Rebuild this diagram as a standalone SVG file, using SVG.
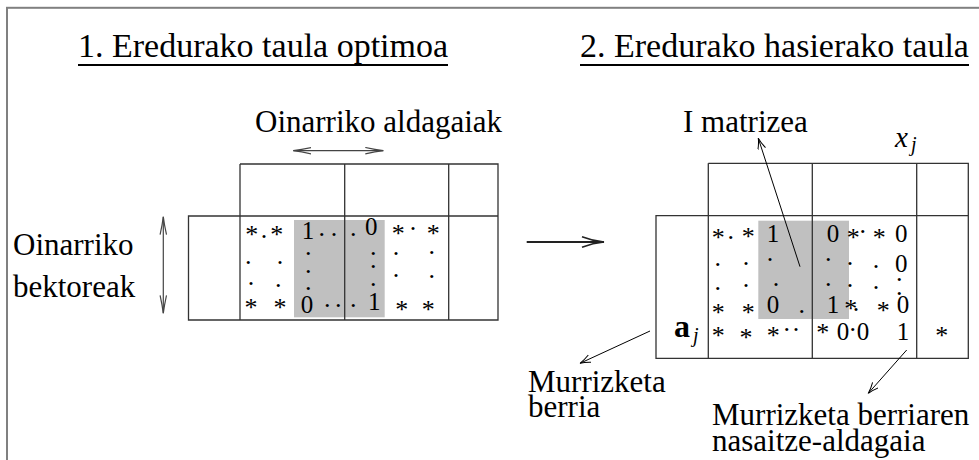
<svg xmlns="http://www.w3.org/2000/svg" width="979" height="460" viewBox="0 0 979 460" font-family="'Liberation Serif', 'DejaVu Serif', serif">
<defs>
<style>
text{font-family:'Liberation Serif','DejaVu Serif',serif;fill:#000}
.t{font-size:34px}
.l{font-size:31px}
.n{font-size:25px}
.d{font-size:26px;text-anchor:middle}
.s{font-size:26px;text-anchor:middle}
.grid{fill:none;stroke:#333;stroke-width:1.3}
.gray{fill:#c0c0c0;stroke:none}
.con{fill:none;stroke:#000;stroke-width:1}
</style>
<marker id="ah" markerUnits="userSpaceOnUse" markerWidth="14" markerHeight="10" refX="11" refY="4" orient="auto-start-reverse" viewBox="0 0 14 10">
<path d="M0,0 Q6,3 11,4 Q6,5 0,8" fill="none" stroke="#000" stroke-width="1"/>
</marker>
<marker id="ahg" markerUnits="userSpaceOnUse" markerWidth="22" markerHeight="10" refX="18" refY="4" orient="auto-start-reverse" viewBox="0 0 22 10">
<path d="M0,0.8 Q10,3 18,4 Q10,5 0,7.2" fill="none" stroke="#444" stroke-width="1.2"/>
</marker>
<marker id="ahb" markerUnits="userSpaceOnUse" markerWidth="26" markerHeight="14" refX="23" refY="6" orient="auto" viewBox="0 0 26 14">
<path d="M1,0.7 Q12,5 23,6 Q12,7 1,11.3" fill="none" stroke="#222" stroke-width="1.5"/>
</marker>
</defs>
<rect x="7" y="7.8" width="1000" height="500" fill="none" stroke="#808080" stroke-width="2"/>

<g id="title1">
<text class="t" x="78" y="57">1. Eredurako taula optimoa</text>
<line x1="78" y1="65" x2="448" y2="65" stroke="#000" stroke-width="2"/>
</g>
<g id="title2">
<text class="t" x="580" y="57">2. Eredurako hasierako taula</text>
<line x1="580" y1="65" x2="969" y2="65" stroke="#000" stroke-width="2"/>
</g>

<g id="label-oinarriko-aldagaiak"><text class="l" x="255" y="132">Oinarriko aldagaiak</text></g>
<g id="label-oinarriko-bektoreak"><text class="l" x="13" y="255">Oinarriko</text><text class="l" x="13" y="297">bektoreak</text></g>
<g id="label-i-matrizea"><text class="l" x="683" y="132">I matrizea</text></g>
<g id="label-xj"><text x="895" y="146.7" style="font-size:29px;font-style:italic">x</text><text x="911" y="151" style="font-size:20px;font-style:italic">j</text></g>
<g id="label-murrizketa"><text class="l" x="528" y="392">Murrizketa</text><text class="l" x="528" y="416.5">berria</text></g>
<g id="label-nasaitze"><text class="l" x="712" y="425">Murrizketa berriaren</text><text class="l" x="712" y="451">nasaitze-aldagaia</text></g>

<g id="table1">
<rect class="gray" x="294" y="220" width="90.7" height="97.3"/>
<path class="grid" d="M188.5,216 H498 V320 H188.5 Z M240,164 H498 V216 M240,164 V320 M344.7,164 V320 M448.7,164 V320"/>
<text class="s" x="251.7" y="242.5">*</text>
<text class="d" x="264" y="238">.</text>
<text class="s" x="276.7" y="242.5">*</text>
<text class="n" x="301.7" y="239">1</text>
<text class="d" x="321.7" y="235.5">.</text><text class="d" x="334" y="235.5">.</text><text class="d" x="353.3" y="235.5">.</text>
<text class="n" x="365" y="235">0</text>
<text class="s" x="398.3" y="242">*</text><text class="d" x="413" y="229.5">.</text><text class="s" x="433.3" y="242">*</text>
<text class="d" x="248.3" y="263.5">.</text><text class="d" x="280" y="263.5">.</text><text class="d" x="308.3" y="255.2">.</text><text class="d" x="373.3" y="255.2">.</text><text class="d" x="396" y="254.5">.</text><text class="d" x="431.7" y="254">.</text>
<text class="d" x="251" y="285.2">.</text><text class="d" x="278.3" y="287">.</text><text class="d" x="308.3" y="273">.</text><text class="d" x="373.3" y="268">.</text><text class="d" x="396" y="277">.</text><text class="d" x="431.7" y="278">.</text>
<text class="d" x="308.3" y="290.2">.</text><text class="d" x="373.3" y="286.2">.</text>
<text class="s" x="251" y="315.7">*</text><text class="s" x="280" y="315.7">*</text>
<text class="n" x="300.7" y="313.3">0</text>
<text class="d" x="327.3" y="307">.</text><text class="d" x="338.3" y="307">.</text><text class="d" x="353.3" y="307">.</text>
<text class="n" x="368" y="310">1</text>
<text class="s" x="401.7" y="318">*</text><text class="s" x="428.3" y="318">*</text>
</g>

<g id="table2">
<rect class="gray" x="758.3" y="220.7" width="90.7" height="98.3"/>
<path class="grid" d="M656,215.7 H968.3 V358.3 H656 Z M708.3,163.3 H968.3 V215.7 M708.3,163.3 V358.3 M812.3,163.3 V358.3 M916.7,163.3 V358.3"/>
<text class="s" x="718.3" y="245.7">*</text><text class="d" x="730.7" y="238.5">.</text><text class="s" x="748.3" y="244.7">*</text>
<text class="n" x="766.7" y="241.7">1</text><text class="n" x="826.7" y="241.7">0</text>
<text class="s" x="853.3" y="245.7">*</text><text class="d" x="862.7" y="233">.</text><text class="s" x="879.3" y="245.7">*</text>
<text class="n" x="895" y="241.7">0</text>
<text class="d" x="717.7" y="266.2">.</text><text class="d" x="746" y="264.5">.</text><text class="d" x="770" y="260.5">.</text><text class="d" x="828.3" y="260.5">.</text><text class="d" x="850" y="264.5">.</text><text class="d" x="876" y="268">.</text>
<text class="n" x="895" y="271.7">0</text>
<text class="d" x="717.7" y="289.5">.</text><text class="d" x="746" y="287.2">.</text><text class="d" x="776" y="286.2">.</text><text class="d" x="828.3" y="286.2">.</text><text class="d" x="850" y="287">.</text><text class="d" x="876" y="288.5">.</text><text class="d" x="899.3" y="281.2">.</text><text class="d" x="899.3" y="294.5">.</text>
<text class="s" x="718.3" y="320.7">*</text><text class="s" x="748.3" y="320.7">*</text>
<text class="n" x="766.7" y="313.3">0</text><text class="d" x="801.7" y="313">.</text>
<text class="n" x="826.7" y="313.3">1</text>
<text class="s" x="850.7" y="317.3">*</text><text class="d" x="856" y="311.2">.</text><text class="s" x="883.3" y="319">*</text>
<text class="n" x="896.7" y="313.3">0</text>
<text x="674" y="337" style="font-size:32px;font-weight:bold">a</text><text x="693" y="342" style="font-size:20px;font-style:italic">j</text>
<text class="s" x="718.3" y="344">*</text><text class="s" x="746" y="345.7">*</text><text class="s" x="773.3" y="344">*</text>
<text class="d" x="786.7" y="331.2">.</text><text class="d" x="796" y="331.2">.</text>
<text class="s" x="822.7" y="340.7">*</text>
<text class="n" x="836.7" y="340">0</text><text class="d" x="852.7" y="330.5">.</text><text class="n" x="856.7" y="340">0</text>
<text class="n" x="896.7" y="340">1</text>
<text class="s" x="941.7" y="344">*</text>
</g>

<g id="connectors">
<line x1="293.3" y1="150.7" x2="383.3" y2="150.7" stroke="#444" stroke-width="1.2" marker-start="url(#ahg)" marker-end="url(#ahg)"/>
<line x1="163.3" y1="216.7" x2="163.3" y2="313.3" stroke="#444" stroke-width="1.2" marker-start="url(#ahg)" marker-end="url(#ahg)"/>
<line x1="526.7" y1="242" x2="604" y2="242" stroke="#222" stroke-width="2.2" marker-end="url(#ahb)"/>
<line class="con" x1="800" y1="266.7" x2="758.3" y2="138.3" marker-end="url(#ah)"/>
<line class="con" x1="650" y1="331" x2="580" y2="363.3" marker-end="url(#ah)"/>
<line class="con" x1="906.7" y1="350" x2="868.3" y2="393.3" marker-end="url(#ah)"/>
</g>
</svg>
